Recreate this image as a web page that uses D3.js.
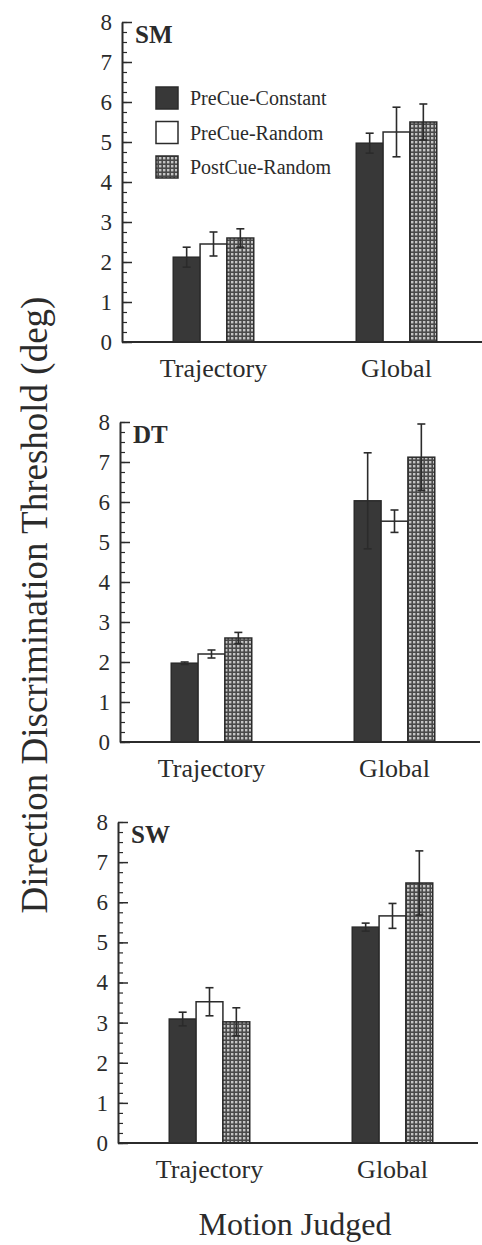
<!DOCTYPE html>
<html>
<head>
<meta charset="utf-8">
<script src="https://cdn.jsdelivr.net/npm/d3@7"></script>
<style>
  body { margin: 0; background: #fff; }
  svg text { font-family: "Liberation Serif", "Times New Roman", serif !important; fill: #2b2b2b; }
  .axis path, .axis line { stroke: #2b2b2b; }
</style>
</head>
<body>
<div class="chart"></div>
<script>
const CATEGORIES = ["Trajectory", "Global"];
const CONDITIONS = ["PreCue-Constant", "PreCue-Random", "PostCue-Random"];
const SUBJECTS = ["SM", "DT", "SW"];
const Y_TICKS = [0, 1, 2, 3, 4, 5, 6, 7, 8];

// means per condition, one list per motion judged
const SM_TRAJECTORY = [2.12, 2.45, 2.6];
const SM_GLOBAL = [4.97, 5.25, 5.5];
const DT_TRAJECTORY = [1.97, 2.2, 2.6];
const DT_GLOBAL = [6.03, 5.52, 7.12];
const SW_TRAJECTORY = [3.09, 3.52, 3.02];
const SW_GLOBAL = [5.38, 5.66, 6.48];

// error bar half-lengths
const SM_TRAJECTORY_ERR = [0.25, 0.3, 0.23];
const SM_GLOBAL_ERR = [0.25, 0.62, 0.45];
const DT_TRAJECTORY_ERR = [0.03, 0.1, 0.14];
const DT_GLOBAL_ERR = [1.2, 0.28, 0.83];
const SW_TRAJECTORY_ERR = [0.17, 0.35, 0.35];
const SW_GLOBAL_ERR = [0.1, 0.31, 0.8];

const WIDTH = 482, HEIGHT = 1245;
const SERIF = '"Liberation Serif", "Times New Roman", serif';

// panel layout (scan is slightly skewed, so axis x drifts a bit)
const PANELS = [
  { name: SUBJECTS[0], left: 122, top: 22, bottom: 342, means: [SM_TRAJECTORY, SM_GLOBAL], errs: [SM_TRAJECTORY_ERR, SM_GLOBAL_ERR], legend: true },
  { name: SUBJECTS[1], left: 120, top: 422, bottom: 742, means: [DT_TRAJECTORY, DT_GLOBAL], errs: [DT_TRAJECTORY_ERR, DT_GLOBAL_ERR], legend: false },
  { name: SUBJECTS[2], left: 118, top: 822, bottom: 1143, means: [SW_TRAJECTORY, SW_GLOBAL], errs: [SW_TRAJECTORY_ERR, SW_GLOBAL_ERR], legend: false }
];

const svg = d3.select(".chart").append("svg").attr("width", WIDTH).attr("height", HEIGHT)
  .style("font-family", SERIF);

// fills
const defs = svg.append("defs");
const pat = defs.append("pattern").attr("id", "mesh")
  .attr("patternUnits", "userSpaceOnUse").attr("width", 4).attr("height", 4);
pat.append("rect").attr("width", 4).attr("height", 4).attr("fill", "#4a4a4a");
pat.append("rect").attr("x", 1).attr("y", 1).attr("width", 2.4).attr("height", 2.4).attr("fill", "#c4c4c4");

const fill = d3.scaleOrdinal().domain(CONDITIONS).range(["#383838", "#ffffff", "url(#mesh)"]);

PANELS.forEach(p => {
  const g = svg.append("g").attr("transform", `translate(${p.left}, 0)`);

  const y = d3.scaleLinear().domain([0, 8]).range([p.bottom, p.top]);
  const x0 = d3.scaleBand().domain(CATEGORIES).range([0, 366]).paddingInner(0.56).paddingOuter(0.28);
  const x1 = d3.scaleBand().domain(CONDITIONS).range([0, x0.bandwidth()]).padding(0);

  // minor ticks
  g.append("g").attr("class", "axis")
    .call(d3.axisLeft(y).tickValues(d3.range(0, 8.01, 0.25)).tickSize(-5).tickSizeOuter(0).tickFormat(""))
    .call(a => a.select(".domain").remove())
    .selectAll("line").attr("stroke-width", 1.2);

  // major ticks
  const yAxis = g.append("g").attr("class", "axis")
    .call(d3.axisLeft(y).tickValues(Y_TICKS).tickSize(-10).tickSizeOuter(0).tickPadding(10).tickFormat(d3.format("d")));
  yAxis.attr("font-family", null);
  yAxis.select(".domain").attr("stroke-width", 2);
  yAxis.selectAll(".tick line").attr("stroke-width", 1.5);
  yAxis.selectAll(".tick text").attr("font-size", 23).attr("fill", "#2b2b2b").style("font-family", SERIF);

  // bars
  const rows = [];
  CATEGORIES.forEach((c, i) => CONDITIONS.forEach((k, j) => {
    rows.push({ cat: c, cond: k, v: p.means[i][j], e: p.errs[i][j] });
  }));

  g.append("g").selectAll("rect").data(rows).enter().append("rect")
    .attr("x", d => x0(d.cat) + x1(d.cond))
    .attr("y", d => y(d.v))
    .attr("width", x1.bandwidth())
    .attr("height", d => y(0) - y(d.v))
    .attr("fill", d => fill(d.cond))
    .attr("stroke", "#2b2b2b")
    .attr("stroke-width", 1.5);

  // error bars
  const errs = g.append("g").selectAll("g").data(rows).enter().append("g")
    .attr("stroke", "#2b2b2b").attr("stroke-width", 1.6);
  errs.append("line")
    .attr("x1", d => x0(d.cat) + x1(d.cond) + x1.bandwidth() / 2)
    .attr("x2", d => x0(d.cat) + x1(d.cond) + x1.bandwidth() / 2)
    .attr("y1", d => y(d.v + d.e))
    .attr("y2", d => y(d.v - d.e));
  errs.selectAll(".cap").data(d => [d.v + d.e, d.v - d.e].map(t => ({ d, t }))).enter().append("line")
    .attr("class", "cap")
    .attr("x1", o => x0(o.d.cat) + x1(o.d.cond) + x1.bandwidth() / 2 - 4)
    .attr("x2", o => x0(o.d.cat) + x1(o.d.cond) + x1.bandwidth() / 2 + 4)
    .attr("y1", o => y(o.t))
    .attr("y2", o => y(o.t));

  // x axis line
  g.append("line")
    .attr("x1", 0).attr("x2", 360)
    .attr("y1", y(0)).attr("y2", y(0))
    .attr("stroke", "#2b2b2b").attr("stroke-width", 2);

  // category labels
  g.selectAll(".cat").data(CATEGORIES).enter().append("text")
    .attr("class", "cat")
    .attr("x", d => x0(d) + x0.bandwidth() / 2)
    .attr("y", y(0) + 35)
    .attr("text-anchor", "middle")
    .attr("font-size", 26)
    .style("font-family", SERIF)
    .text(d => d);

  // subject label
  g.append("text")
    .attr("x", 13)
    .attr("y", p.top + 21)
    .attr("font-size", 25)
    .attr("font-weight", "bold")
    .style("font-family", SERIF)
    .text(p.name);

  if (p.legend) {
    const legend = g.append("g");
    const ly = d3.scalePoint().domain(CONDITIONS).range([87, 156]);
    legend.selectAll("rect").data(CONDITIONS).enter().append("rect")
      .attr("x", 34)
      .attr("y", d => ly(d))
      .attr("width", 22).attr("height", 22)
      .attr("fill", d => fill(d))
      .attr("stroke", "#2b2b2b").attr("stroke-width", 1.5);
    legend.selectAll("text").data(CONDITIONS).enter().append("text")
      .attr("x", 68)
      .attr("y", d => ly(d) + 18)
      .attr("font-size", 20)
      .style("font-family", SERIF)
      .text(d => d);
  }
});

// axis titles
svg.append("text")
  .attr("transform", "translate(47, 605) rotate(-90)")
  .attr("text-anchor", "middle")
  .attr("font-size", 37)
  .style("font-family", SERIF)
  .text("Direction Discrimination Threshold (deg)");

svg.append("text")
  .attr("x", 295)
  .attr("y", 1235)
  .attr("text-anchor", "middle")
  .attr("font-size", 32)
  .style("font-family", SERIF)
  .text("Motion Judged");
</script>
</body>
</html>
